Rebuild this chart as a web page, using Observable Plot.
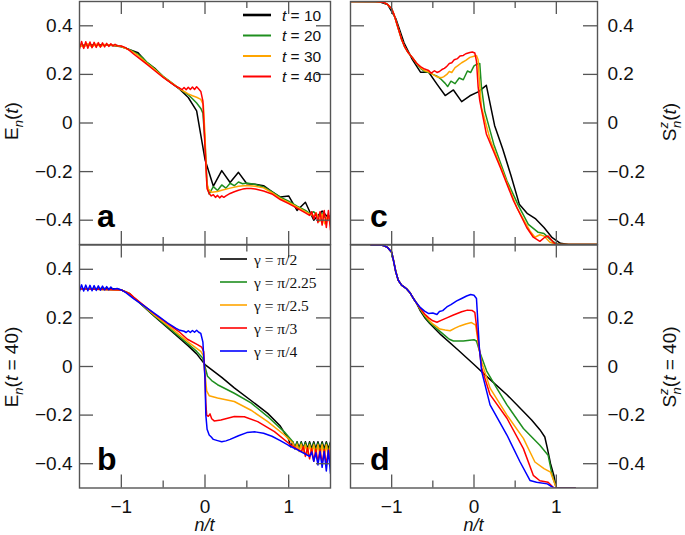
<!DOCTYPE html>
<html><head><meta charset="utf-8">
<script src="https://cdn.jsdelivr.net/npm/d3@7"></script>
<script src="https://cdn.jsdelivr.net/npm/@observablehq/plot@0.6"></script>
<style>
body{margin:0;background:#fff;}
#wrap{position:relative;width:685px;height:535px;overflow:hidden;background:#fff;}
#wrap svg{position:absolute;}
</style></head><body><div id="wrap"></div>
<script>
// ---- ticks & legend labels ----
const xMajor = [-1, 0, 1];
const xMinor = [-0.5, 0.5];
const yTicks = [-0.4, -0.2, 0, 0.2, 0.4];
const tValues = [10, 20, 30, 40];
const gammaLabels = ["π/2", "π/2.25", "π/2.5", "π/3", "π/4"];
const tColors = ["#000000", "#1f8f1f", "#ffa500", "#ff0000"];
const gColors = ["#000000", "#1f8f1f", "#ffa500", "#ff0000", "#0000ff"];

// ---- panel a : E_n(t) ----
const aT10 = [[-1.5,0.318],[-1.4,0.32],[-1.3,0.321],[-1.2,0.321],[-1.1,0.319],[-1.0,0.314],[-0.9,0.302],[-0.8,0.289],[-0.7,0.25],[-0.6,0.225],[-0.5,0.19],[-0.4,0.164],[-0.3,0.138],[-0.2,0.105],[-0.1,0.05],[0.0,-0.15],[0.1,-0.26],[0.2,-0.196],[0.3,-0.245],[0.4,-0.203],[0.5,-0.25],[0.6,-0.252],[0.7,-0.258],[0.8,-0.282],[0.9,-0.305],[1.0,-0.3],[1.1,-0.36],[1.2,-0.326],[1.3,-0.4],[1.4,-0.362],[1.5,-0.4]];
const aT20 = [[-1.5,0.32],[-1.2,0.321],[-1.05,0.319],[-1.0,0.315],[-0.9,0.302],[-0.8,0.282],[-0.75,0.27],[-0.7,0.252],[-0.65,0.238],[-0.6,0.223],[-0.5,0.192],[-0.4,0.166],[-0.3,0.14],[-0.25,0.128],[-0.2,0.116],[-0.15,0.1],[-0.1,0.082],[-0.05,0.06],[-0.025,0.04],[0,-0.08],[0.025,-0.255],[0.05,-0.292],[0.1,-0.262],[0.15,-0.278],[0.2,-0.255],[0.25,-0.268],[0.3,-0.248],[0.35,-0.258],[0.4,-0.243],[0.45,-0.25],[0.5,-0.247],[0.6,-0.253],[0.7,-0.263],[0.8,-0.283],[0.9,-0.305],[1.0,-0.322],[1.1,-0.342],[1.2,-0.36],[1.25,-0.372],[1.3,-0.365],[1.35,-0.385],[1.4,-0.372],[1.45,-0.395],[1.5,-0.38]];
const aT30 = [[-1.5,0.322],[-1.45,0.312],[-1.4,0.326],[-1.35,0.313],[-1.3,0.325],[-1.25,0.315],[-1.2,0.323],[-1.1,0.32],[-1.0,0.315],[-0.9,0.3],[-0.8,0.278],[-0.7,0.248],[-0.6,0.22],[-0.5,0.19],[-0.4,0.165],[-0.3,0.14],[-0.2,0.12],[-0.15,0.112],[-0.1,0.106],[-0.05,0.097],[-0.02,0.075],[0,-0.05],[0.02,-0.24],[0.04,-0.272],[0.08,-0.285],[0.15,-0.282],[0.2,-0.277],[0.3,-0.268],[0.4,-0.26],[0.5,-0.257],[0.6,-0.26],[0.7,-0.267],[0.8,-0.287],[0.9,-0.31],[1.0,-0.327],[1.1,-0.345],[1.2,-0.365],[1.3,-0.383],[1.33,-0.37],[1.37,-0.405],[1.4,-0.375],[1.43,-0.415],[1.47,-0.38],[1.5,-0.42]];
const aT40 = [[-1.5,0.305],[-1.475,0.335],[-1.45,0.307],[-1.425,0.334],[-1.4,0.308],[-1.375,0.333],[-1.35,0.31],[-1.325,0.332],[-1.3,0.311],[-1.275,0.331],[-1.25,0.312],[-1.225,0.33],[-1.2,0.313],[-1.175,0.328],[-1.15,0.315],[-1.125,0.326],[-1.1,0.317],[-1.075,0.324],[-1.05,0.318],[-1.0,0.317],[-0.95,0.31],[-0.9,0.298],[-0.85,0.283],[-0.8,0.27],[-0.75,0.257],[-0.7,0.243],[-0.6,0.215],[-0.5,0.188],[-0.4,0.163],[-0.35,0.152],[-0.3,0.143],[-0.275,0.137],[-0.25,0.146],[-0.225,0.137],[-0.2,0.147],[-0.175,0.138],[-0.15,0.148],[-0.125,0.138],[-0.1,0.149],[-0.075,0.14],[-0.05,0.13],[-0.025,0.09],[0,-0.1],[0.025,-0.27],[0.05,-0.29],[0.075,-0.3],[0.1,-0.295],[0.125,-0.306],[0.15,-0.298],[0.175,-0.308],[0.2,-0.3],[0.225,-0.306],[0.25,-0.3],[0.3,-0.29],[0.35,-0.283],[0.4,-0.277],[0.45,-0.272],[0.5,-0.27],[0.55,-0.27],[0.6,-0.272],[0.7,-0.28],[0.8,-0.292],[0.9,-0.315],[1.0,-0.332],[1.1,-0.35],[1.2,-0.37],[1.25,-0.38],[1.275,-0.365],[1.3,-0.395],[1.325,-0.37],[1.35,-0.41],[1.375,-0.365],[1.4,-0.42],[1.425,-0.36],[1.45,-0.43],[1.475,-0.36],[1.5,-0.44]];

// ---- panel b : E_n(t=40) for several gamma ----
const bG2 = [[-1.5,0.32],[-1.2,0.321],[-1.05,0.319],[-1.0,0.315],[-0.9,0.3],[-0.85,0.283],[-0.6,0.205],[-0.4,0.145],[-0.2,0.085],[-0.1,0.052],[0,0.008],[0.2,-0.045],[0.35,-0.088],[0.55,-0.14],[0.75,-0.193],[0.9,-0.245],[1.0,-0.3],[1.025,-0.33],[1.05,-0.31],[1.075,-0.335],[1.1,-0.31],[1.125,-0.336],[1.15,-0.31],[1.175,-0.337],[1.2,-0.31],[1.225,-0.338],[1.25,-0.31],[1.275,-0.338],[1.3,-0.31],[1.325,-0.338],[1.35,-0.31],[1.375,-0.338],[1.4,-0.31],[1.425,-0.338],[1.45,-0.31],[1.475,-0.338],[1.5,-0.31]];
const bG225 = [[-1.5,0.32],[-1.0,0.315],[-0.9,0.3],[-0.85,0.283],[-0.6,0.207],[-0.4,0.15],[-0.2,0.092],[-0.1,0.062],[-0.03,0.036],[0,0.0],[0.03,-0.04],[0.08,-0.058],[0.15,-0.075],[0.35,-0.11],[0.55,-0.15],[0.75,-0.206],[0.95,-0.27],[1.05,-0.31],[1.075,-0.34],[1.1,-0.312],[1.125,-0.345],[1.15,-0.313],[1.175,-0.348],[1.2,-0.314],[1.225,-0.35],[1.25,-0.315],[1.275,-0.35],[1.3,-0.315],[1.325,-0.352],[1.35,-0.315],[1.375,-0.352],[1.4,-0.315],[1.425,-0.354],[1.45,-0.315],[1.475,-0.354],[1.5,-0.315]];
const bG25 = [[-1.5,0.32],[-1.0,0.315],[-0.9,0.3],[-0.85,0.284],[-0.6,0.21],[-0.4,0.157],[-0.2,0.1],[-0.1,0.075],[-0.05,0.062],[-0.02,0.045],[0,-0.03],[0.02,-0.1],[0.05,-0.12],[0.15,-0.13],[0.35,-0.144],[0.55,-0.18],[0.75,-0.227],[0.95,-0.282],[1.05,-0.315],[1.075,-0.34],[1.1,-0.32],[1.125,-0.35],[1.15,-0.32],[1.175,-0.355],[1.2,-0.322],[1.225,-0.36],[1.25,-0.322],[1.275,-0.362],[1.3,-0.322],[1.325,-0.365],[1.35,-0.322],[1.375,-0.367],[1.4,-0.322],[1.425,-0.37],[1.45,-0.322],[1.475,-0.372],[1.5,-0.322]];
const bG3 = [[-1.5,0.32],[-1.0,0.315],[-0.9,0.3],[-0.85,0.285],[-0.6,0.215],[-0.4,0.165],[-0.3,0.14],[-0.21,0.112],[-0.09,0.09],[-0.04,0.08],[-0.015,0.06],[0,-0.05],[0.01,-0.15],[0.02,-0.2],[0.04,-0.205],[0.06,-0.195],[0.08,-0.215],[0.11,-0.224],[0.19,-0.22],[0.35,-0.206],[0.47,-0.207],[0.63,-0.227],[0.83,-0.268],[1.03,-0.324],[1.15,-0.35],[1.175,-0.33],[1.2,-0.37],[1.225,-0.335],[1.25,-0.38],[1.275,-0.338],[1.3,-0.39],[1.325,-0.34],[1.35,-0.395],[1.375,-0.34],[1.4,-0.4],[1.425,-0.342],[1.45,-0.405],[1.475,-0.342],[1.5,-0.41]];
const bG4 = [[-1.5,0.31],[-1.475,0.336],[-1.45,0.311],[-1.425,0.335],[-1.4,0.312],[-1.375,0.334],[-1.35,0.312],[-1.325,0.333],[-1.3,0.313],[-1.275,0.332],[-1.25,0.314],[-1.225,0.331],[-1.2,0.315],[-1.175,0.329],[-1.15,0.316],[-1.125,0.327],[-1.1,0.318],[-1.05,0.321],[-1.0,0.315],[-0.95,0.305],[-0.9,0.292],[-0.85,0.278],[-0.75,0.255],[-0.65,0.23],[-0.55,0.205],[-0.45,0.18],[-0.35,0.158],[-0.3,0.149],[-0.25,0.145],[-0.225,0.14],[-0.2,0.147],[-0.175,0.14],[-0.15,0.148],[-0.125,0.141],[-0.1,0.149],[-0.075,0.141],[-0.05,0.136],[-0.025,0.1],[0,-0.05],[0.01,-0.2],[0.025,-0.258],[0.05,-0.282],[0.075,-0.29],[0.1,-0.3],[0.15,-0.305],[0.2,-0.31],[0.25,-0.306],[0.3,-0.3],[0.4,-0.285],[0.5,-0.272],[0.6,-0.269],[0.7,-0.275],[0.8,-0.287],[0.9,-0.305],[1.0,-0.325],[1.1,-0.342],[1.2,-0.36],[1.25,-0.37],[1.275,-0.352],[1.3,-0.39],[1.325,-0.355],[1.35,-0.405],[1.375,-0.35],[1.4,-0.415],[1.425,-0.35],[1.45,-0.43],[1.475,-0.345],[1.5,-0.44]];

// ---- panel c : S^z_n(t) ----
const cHead = [[-1.5,0.5],[-1.2,0.5],[-1.1,0.497],[-1.05,0.488],[-1.0,0.47],[-0.97,0.445],[-0.93,0.4],[-0.88,0.345],[-0.84,0.312],[-0.8,0.29],[-0.75,0.27],[-0.7,0.247]];
const cT10 = [[-1.5,0.5],[-1.15,0.499],[-1.05,0.488],[-0.95,0.43],[-0.85,0.33],[-0.75,0.262],[-0.65,0.209],[-0.55,0.209],[-0.45,0.16],[-0.35,0.113],[-0.25,0.136],[-0.15,0.088],[-0.05,0.112],[0.05,0.128],[0.15,0.155],[0.25,-0.01],[0.35,-0.108],[0.45,-0.217],[0.55,-0.334],[0.65,-0.373],[0.75,-0.395],[0.85,-0.43],[0.95,-0.472],[1.05,-0.495],[1.15,-0.5],[1.5,-0.5]];
const cT20 = [[-0.65,0.225],[-0.6,0.212],[-0.55,0.208],[-0.5,0.2],[-0.45,0.193],[-0.4,0.18],[-0.35,0.163],[-0.32,0.15],[-0.28,0.172],[-0.23,0.162],[-0.18,0.185],[-0.13,0.178],[-0.08,0.214],[-0.04,0.208],[0.0,0.235],[0.04,0.243],[0.07,0.245],[0.09,0.15],[0.13,0.05],[0.24,-0.087],[0.4,-0.238],[0.54,-0.34],[0.66,-0.417],[0.78,-0.45],[0.85,-0.455],[0.93,-0.48],[1.0,-0.497],[1.05,-0.5],[1.5,-0.5]];
const cT30 = [[-0.65,0.228],[-0.6,0.215],[-0.55,0.21],[-0.5,0.2],[-0.45,0.19],[-0.4,0.186],[-0.37,0.19],[-0.33,0.2],[-0.3,0.212],[-0.27,0.208],[-0.23,0.228],[-0.2,0.235],[-0.15,0.248],[-0.1,0.258],[-0.05,0.27],[0.0,0.275],[0.03,0.278],[0.05,0.26],[0.06,0.2],[0.09,0.065],[0.2,-0.073],[0.36,-0.21],[0.52,-0.348],[0.68,-0.444],[0.74,-0.47],[0.8,-0.46],[0.85,-0.465],[0.92,-0.49],[1.0,-0.5],[1.5,-0.5]];
const cT40 = [[-0.65,0.232],[-0.6,0.222],[-0.55,0.216],[-0.52,0.205],[-0.48,0.215],[-0.45,0.208],[-0.42,0.212],[-0.39,0.22],[-0.36,0.225],[-0.33,0.233],[-0.3,0.245],[-0.27,0.248],[-0.24,0.26],[-0.2,0.265],[-0.17,0.276],[-0.13,0.278],[-0.1,0.285],[-0.05,0.29],[-0.02,0.292],[0.01,0.288],[0.03,0.255],[0.05,0.15],[0.07,0.092],[0.15,-0.045],[0.32,-0.183],[0.48,-0.32],[0.64,-0.43],[0.72,-0.47],[0.8,-0.487],[0.86,-0.47],[0.9,-0.465],[0.96,-0.49],[1.0,-0.5],[1.5,-0.5]];

// ---- panel d : S^z_n(t=40) for several gamma ----
const dHead = [[-1.25,0.5],[-1.15,0.5],[-1.1,0.498],[-1.05,0.49],[-1.0,0.47],[-0.98,0.44],[-0.95,0.39],[-0.92,0.355],[-0.88,0.335],[-0.85,0.328],[-0.82,0.32],[-0.78,0.305],[-0.74,0.282],[-0.7,0.262]];
const dG2 = [[-0.65,0.228],[-0.6,0.202],[-0.54,0.178],[-0.4,0.13],[-0.2,0.07],[0,0.008],[0.2,-0.055],[0.4,-0.116],[0.6,-0.185],[0.7,-0.22],[0.8,-0.26],[0.86,-0.29],[0.89,-0.335],[0.93,-0.4],[0.97,-0.448],[1.0,-0.5],[1.23,-0.5]];
const dG225 = [[-0.65,0.232],[-0.6,0.207],[-0.54,0.181],[-0.45,0.155],[-0.374,0.133],[-0.3,0.112],[-0.25,0.105],[-0.13,0.105],[0,0.11],[0.03,0.105],[0.073,0.057],[0.154,-0.019],[0.276,-0.089],[0.4,-0.158],[0.6,-0.255],[0.8,-0.324],[0.9,-0.365],[0.95,-0.448],[1.0,-0.5],[1.23,-0.5]];
const dG25 = [[-0.65,0.236],[-0.6,0.212],[-0.55,0.192],[-0.5,0.175],[-0.45,0.163],[-0.415,0.154],[-0.35,0.15],[-0.29,0.147],[-0.23,0.158],[-0.17,0.167],[-0.1,0.175],[-0.03,0.181],[0.02,0.17],[0.06,0.078],[0.09,0.022],[0.195,-0.089],[0.4,-0.2],[0.6,-0.296],[0.74,-0.393],[0.85,-0.42],[0.93,-0.435],[1.0,-0.5],[1.23,-0.5]];
const dG3 = [[-0.65,0.238],[-0.6,0.216],[-0.55,0.2],[-0.5,0.188],[-0.45,0.182],[-0.4,0.19],[-0.33,0.2],[-0.25,0.212],[-0.15,0.225],[-0.08,0.232],[-0.02,0.23],[0.01,0.223],[0.053,0.105],[0.093,-0.006],[0.195,-0.116],[0.4,-0.213],[0.6,-0.338],[0.72,-0.448],[0.8,-0.47],[0.9,-0.476],[0.97,-0.5],[1.23,-0.5]];
const dG4 = [[-0.65,0.242],[-0.6,0.228],[-0.55,0.218],[-0.5,0.22],[-0.45,0.214],[-0.42,0.226],[-0.38,0.23],[-0.33,0.245],[-0.28,0.255],[-0.21,0.27],[-0.15,0.28],[-0.09,0.29],[-0.04,0.296],[0.0,0.293],[0.03,0.28],[0.065,0.078],[0.093,-0.02],[0.195,-0.158],[0.4,-0.282],[0.56,-0.393],[0.68,-0.469],[0.76,-0.476],[0.89,-0.483],[0.97,-0.5],[1.23,-0.5]];

const wrap = document.getElementById("wrap");
const FONT = '"Liberation Sans", Arial, Helvetica, sans-serif';
const fmt = d => d3.format("~g")(d);

function panel({series, left, top, width, height, mL, mR, mT, mB, yAnchor, showX}) {
  const plotW = width - mL - mR, plotH = height - mT - mB;
  const tk = {stroke: "#555", strokeWidth: 1.3};
  const marks = [
    ...series.map(s => Plot.line(s.data, {x: d => d[0], y: d => d[1], stroke: s.color, strokeWidth: 1.5, clip: true})),
    Plot.tickY(yTicks, {y: d => d, insetRight: plotW - 14, ...tk}),
    Plot.tickY(yTicks, {y: d => d, insetLeft: plotW - 14, ...tk}),
    Plot.tickX(xMajor, {x: d => d, insetBottom: plotH - 13, ...tk}),
    Plot.tickX(xMajor, {x: d => d, insetTop: plotH - 13, ...tk}),
    Plot.tickX(xMinor, {x: d => d, insetBottom: plotH - 7, ...tk}),
    Plot.tickX(xMinor, {x: d => d, insetTop: plotH - 7, ...tk}),
    Plot.frame({stroke: "#555", strokeWidth: 1.4})
  ];
  const svg = Plot.plot({
    width, height, marginLeft: mL, marginRight: mR, marginTop: mT, marginBottom: mB,
    style: {background: "transparent", fontSize: "19px", fontFamily: FONT, color: "#111", overflow: "visible"},
    x: {domain: [-1.5, 1.5], axis: showX ? "bottom" : null, ticks: xMajor, tickSize: 0, tickPadding: 11, tickFormat: fmt, label: null},
    y: {domain: [-0.5, 0.5], axis: yAnchor, ticks: yTicks, tickSize: 0, tickPadding: yAnchor === "left" ? 7 : 10, tickFormat: fmt, label: null},
    marks
  });
  svg.style.left = left + "px";
  svg.style.top = top + "px";
  wrap.appendChild(svg);
}

const aSeries = [aT10, aT20, aT30, aT40].map((d, i) => ({data: d, color: tColors[i]}));
const bSeries = [bG2, bG225, bG25, bG3, bG4].map((d, i) => ({data: d, color: gColors[i]}));
const cSeries = [cT10, cHead.concat(cT20), cHead.concat(cT30), cHead.concat(cT40)].map((d, i) => ({data: d, color: tColors[i]}));
const dSeries = [dG2, dG225, dG25, dG3, dG4].map((d, i) => ({data: dHead.concat(d), color: gColors[i]}));

panel({series: aSeries, left: 0, top: 0, width: 333, height: 245, mL: 79, mR: 3, mT: 1, mB: 1, yAnchor: "left", showX: false});
panel({series: bSeries, left: 0, top: 243, width: 333, height: 292, mL: 79, mR: 3, mT: 1.5, mB: 47.5, yAnchor: "left", showX: true});
panel({series: cSeries, left: 347, top: 0, width: 338, height: 245, mL: 3, mR: 88, mT: 1, mB: 1, yAnchor: "right", showX: false});
panel({series: dSeries, left: 347, top: 243, width: 338, height: 292, mL: 3, mR: 88, mT: 1.5, mB: 47.5, yAnchor: "right", showX: true});

// ---- overlay: panel letters, axis titles, legends ----
const ov = d3.select(wrap).append("svg").attr("width", 685).attr("height", 535)
  .style("left", "0px").style("top", "0px").style("pointer-events", "none")
  .attr("font-family", FONT).attr("fill", "#111");

[["a", 97, 227], ["b", 97, 470], ["c", 370, 227], ["d", 370, 470]].forEach(([t, x, y]) =>
  ov.append("text").attr("x", x).attr("y", y).attr("font-size", 32).attr("font-weight", "bold").attr("fill", "#000").text(t));

function eLabel(cy, suffix) {
  const t = ov.append("text").attr("transform", `translate(18,${cy}) rotate(-90)`).attr("text-anchor", "middle").attr("font-size", 19);
  t.append("tspan").text("E");
  t.append("tspan").attr("font-style", "italic").attr("font-size", 13).attr("dy", 5).text("n");
  t.append("tspan").attr("dy", -5).text("(");
  t.append("tspan").attr("font-style", "italic").text("t");
  t.append("tspan").text(suffix + ")");
}
eLabel(121, "");
eLabel(367, " = 40");

function sLabel(cy, suffix) {
  const t = ov.append("text").attr("transform", `translate(676,${cy}) rotate(-90)`).attr("text-anchor", "middle").attr("font-size", 19);
  t.append("tspan").text("S");
  t.append("tspan").attr("font-style", "italic").attr("font-size", 13).attr("dy", -8).text("z");
  t.append("tspan").attr("font-style", "italic").attr("font-size", 13).attr("dx", -6).attr("dy", 13).text("n");
  t.append("tspan").attr("dy", -5).text("(");
  t.append("tspan").attr("font-style", "italic").text("t");
  t.append("tspan").text(suffix + ")");
}
sLabel(122, "");
sLabel(367, " = 40");

[204.5, 473.5].forEach(cx => {
  ov.append("text").attr("x", cx).attr("y", 531).attr("text-anchor", "middle").attr("font-size", 18).attr("font-style", "italic").text("n/t");
});

// legend a
tValues.forEach((v, i) => {
  const y = 15 + i * 20.5;
  ov.append("line").attr("x1", 243).attr("x2", 271).attr("y1", y).attr("y2", y)
    .attr("stroke", tColors[i]).attr("stroke-width", i === 0 ? 2.6 : 2);
  const t = ov.append("text").attr("x", 282).attr("y", y + 5.5).attr("font-size", 15.5);
  t.append("tspan").attr("font-style", "italic").text("t");
  t.append("tspan").text(" = " + v);
});
// legend b
gammaLabels.forEach((g, i) => {
  const y = 259 + i * 23;
  ov.append("line").attr("x1", 220).attr("x2", 247).attr("y1", y).attr("y2", y)
    .attr("stroke", gColors[i]).attr("stroke-width", 1.6);
  ov.append("text").attr("x", 254).attr("y", y + 5.5).attr("font-size", 15.5)
    .attr("font-family", '"Liberation Serif", "Times New Roman", serif').text("γ = " + g);
});
</script></body></html>
